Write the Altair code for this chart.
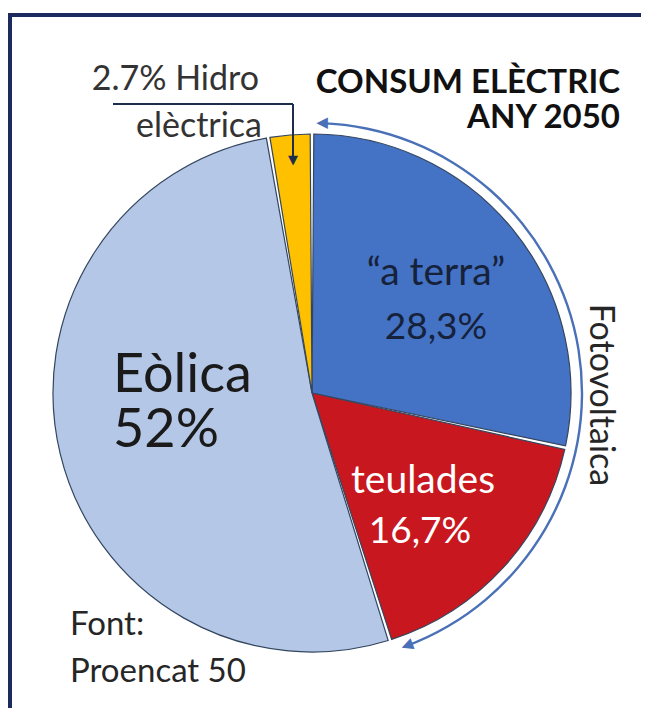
import math
import altair as alt
import pandas as pd

# ---- data ----
categories = ["a terra", "teulades", "Eòlica", "Hidro"]
values = [28.3, 16.7, 52.0, 2.7]
label_top = ["“a terra”", "teulades", "Eòlica", "2.7% Hidro"]
label_bottom = ["28,3%", "16,7%", "52%", "elèctrica"]
title_lines = ["CONSUM ELÈCTRIC", "ANY 2050"]
bracket_label = "Fotovoltaica"
source_lines = ["Font:", "Proencat 50"]
bracket_members = ["a terra", "teulades"]

colors = ["#4472c4", "#c8171e", "#b4c7e7", "#ffc000"]

W, H = 633, 700
CX, CY = 304, 385
R = 259
FONT = "Lato"

total = sum(values)
df = pd.DataFrame({"cat": categories, "value": values, "order": list(range(len(values)))})
one = pd.DataFrame({"k": [0]})

pie = alt.Chart(df).mark_arc(
    stroke="#34465f", strokeWidth=1.2, padAngle=0.014, radius=R
).encode(
    theta=alt.Theta("value:Q", stack=True),
    order=alt.Order("order:Q"),
    color=alt.Color("cat:N", scale=alt.Scale(domain=categories, range=colors), legend=None),
    x=alt.value(CX),
    y=alt.value(CY),
)

# bracket arc spanning the photovoltaic slices
pv_share = sum(v for c, v in zip(categories, values) if c in bracket_members)
th_end = 2 * math.pi * pv_share / total
th0 = 0.035
th1 = th_end - 0.05
BR = 270
ARROW = "#4a70b8"

bracket = alt.Chart(one).mark_arc(
    radius=BR + 1.2, radius2=BR - 1.2, theta=th0, theta2=th1, fill=ARROW
).encode(x=alt.value(CX), y=alt.value(CY))

head_top = alt.Chart(one).mark_text(
    text="▲", font="DejaVu Sans", fontSize=15, color=ARROW, align="center",
    baseline="middle", theta=th0, radius=BR, angle=270
).encode(x=alt.value(CX), y=alt.value(CY))

head_bot = alt.Chart(one).mark_text(
    text="▲", font="DejaVu Sans", fontSize=15, color=ARROW, align="center",
    baseline="middle", theta=th1, radius=BR, angle=math.degrees(th1) + 90
).encode(x=alt.value(CX), y=alt.value(CY))


def txt(s, x, y, size, color="#262626", align="left", weight="normal", angle=0, baseline="alphabetic"):
    return alt.Chart(one).mark_text(
        text=s, font=FONT, fontSize=size, color=color, align=align,
        fontWeight=weight, angle=angle, baseline=baseline
    ).encode(x=alt.value(x), y=alt.value(y))


texts = [
    txt(title_lines[0], 612, 85, 33, color="#111111", align="right", weight="bold"),
    txt(title_lines[1], 612, 120, 33, color="#111111", align="right", weight="bold"),
    txt(label_top[3], 251, 82, 34, color="#333333", align="right"),
    txt(label_bottom[3], 254, 129, 34, color="#333333", align="right"),
    txt(label_top[0], 428, 277, 39, color="#16213a", align="center"),
    txt(label_bottom[0], 428, 331, 37, color="#16213a", align="center"),
    txt(label_top[1], 415, 485, 39, color="#ffffff", align="center"),
    txt(label_bottom[1], 412, 535, 37, color="#ffffff", align="center"),
    txt(label_top[2], 105, 384, 54, color="#1a1a1a"),
    txt(label_bottom[2], 105, 439, 54, color="#1a1a1a"),
    txt(bracket_label, 592, 387, 34, color="#262626", align="center", angle=90, baseline="middle"),
    txt(source_lines[0], 62, 627, 33, color="#262626"),
    txt(source_lines[1], 62, 674, 33, color="#262626"),
]

LEAD = "#1f2d4d"
lead_h = alt.Chart(one).mark_rule(color=LEAD, strokeWidth=2).encode(
    x=alt.value(105), x2=alt.value(285), y=alt.value(96))
lead_v = alt.Chart(one).mark_rule(color=LEAD, strokeWidth=2).encode(
    x=alt.value(285), y=alt.value(96), y2=alt.value(150))
lead_head = alt.Chart(one).mark_text(
    text="▼", font="DejaVu Sans", fontSize=13, color=LEAD, align="center", baseline="middle"
).encode(x=alt.value(285), y=alt.value(152))

FRAME = "#1c2a5e"
frame_l = alt.Chart(one).mark_rule(color=FRAME, strokeWidth=4).encode(
    x=alt.value(2), y=alt.value(5), y2=alt.value(H))
frame_t = alt.Chart(one).mark_rule(color=FRAME, strokeWidth=4).encode(
    x=alt.value(0), x2=alt.value(W), y=alt.value(7))

chart = alt.layer(
    pie, bracket, head_top, head_bot, lead_h, lead_v, lead_head, frame_l, frame_t, *texts
).properties(
    width=W, height=H, padding=0, autosize="none", background="white"
).configure_view(stroke=None)

chart.save("out.html", embed_options={"renderer": "svg", "actions": False})
